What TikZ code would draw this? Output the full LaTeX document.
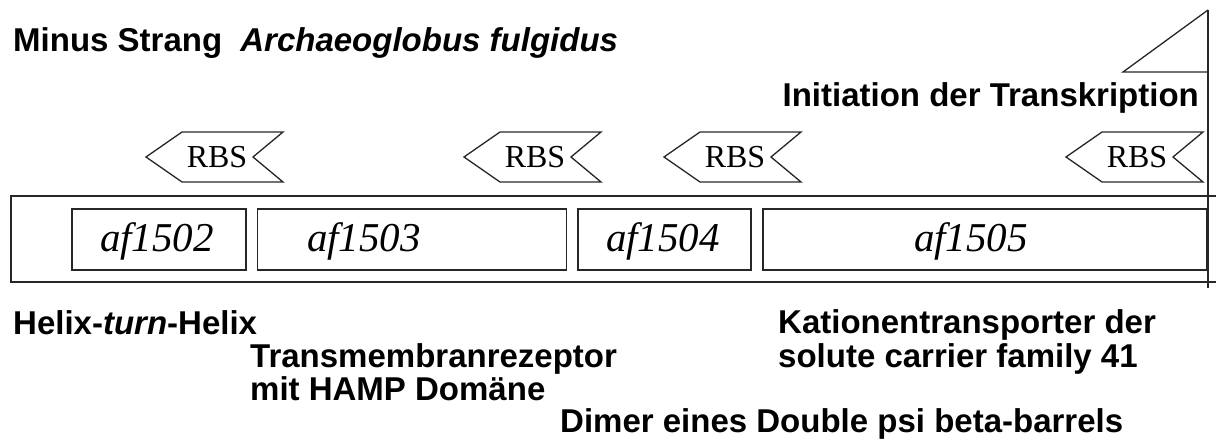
\documentclass[tikz,border=0pt]{standalone}
\usepackage{fontspec}
\setmainfont{Liberation Serif}
\newfontfamily\arialfont{Liberation Sans}
\begin{document}
\begin{tikzpicture}[x=1pt,y=-1pt,
  outline/.style={draw=black!85,line width=1.3pt},
  genebox/.style={outline,rectangle,inner sep=0pt,minimum height=61pt},
  genelabel/.style={font=\fontsize{41}{45}\selectfont\itshape,inner sep=0pt},
  caption/.style={font=\arialfont\bfseries\fontsize{33}{38}\selectfont,anchor=base west,inner sep=0pt},
  rbs/.pic={
    \draw[outline] (-71,0) -- (-35,-25) -- (66,-25) -- (36,0) -- (66,25) -- (-35,25) -- cycle;
    \node[font=\fontsize{32}{35}\selectfont,inner sep=0pt] at (0,0) {RBS};
  }]
\useasboundingbox (0,0) rectangle (1216,446);

% title line
\node[caption] (title) at (13,52) {Minus Strang\hspace{0.55em}\itshape Archaeoglobus fulgidus};

% transcription start flag
\coordinate (poletop) at (1208,10);
\coordinate (polebot) at (1208,288);
\coordinate (flagfoot) at (1208,72);
\coordinate (flagtip) at (1123,72);
\draw[outline] (poletop) -- (polebot);
\draw[outline] (poletop) -- (flagtip) -- (flagfoot);
\node[caption,anchor=base east] (init) at (1199,107) {Initiation der Transkription};

% ribosome binding sites
\pic at (217,157) {rbs};
\pic at (535,157) {rbs};
\pic at (735,157) {rbs};
\pic at (1137,157) {rbs};

% strand frame, open to the right
\draw[outline] (1216,196) -- (11,196) -- (11,282) -- (1216,282);

% genes
\node[genebox,minimum width=174pt] (g2) at (159,239.5) {};
\node[genebox,minimum width=309pt] (g3) at (412,239.5) {};
\node[genebox,minimum width=173pt] (g4) at (664.5,239.5) {};
\node[genebox,minimum width=444pt] (g5) at (985,239.5) {};
\node[genelabel] (l2) at (157,241) {af1502};
\node[genelabel] (l3) at (364,241) {af1503};
\node[genelabel] (l4) at (663,241) {af1504};
\node[genelabel] (l5) at (971,241) {af1505};

% gene product descriptions
\node[caption] (d2) at (13,335) {Helix-\textit{turn}-Helix};
\node[caption] (d3a) at (250,367) {Transmembranrezeptor};
\node[caption] (d3b) at (250,400) {mit HAMP Domäne};
\node[caption] (d5a) at (778,334) {Kationentransporter der};
\node[caption] (d5b) at (778,367) {solute carrier family 41};
\node[caption] (d4) at (560,432) {Dimer eines Double psi beta-barrels};
\end{tikzpicture}
\end{document}
